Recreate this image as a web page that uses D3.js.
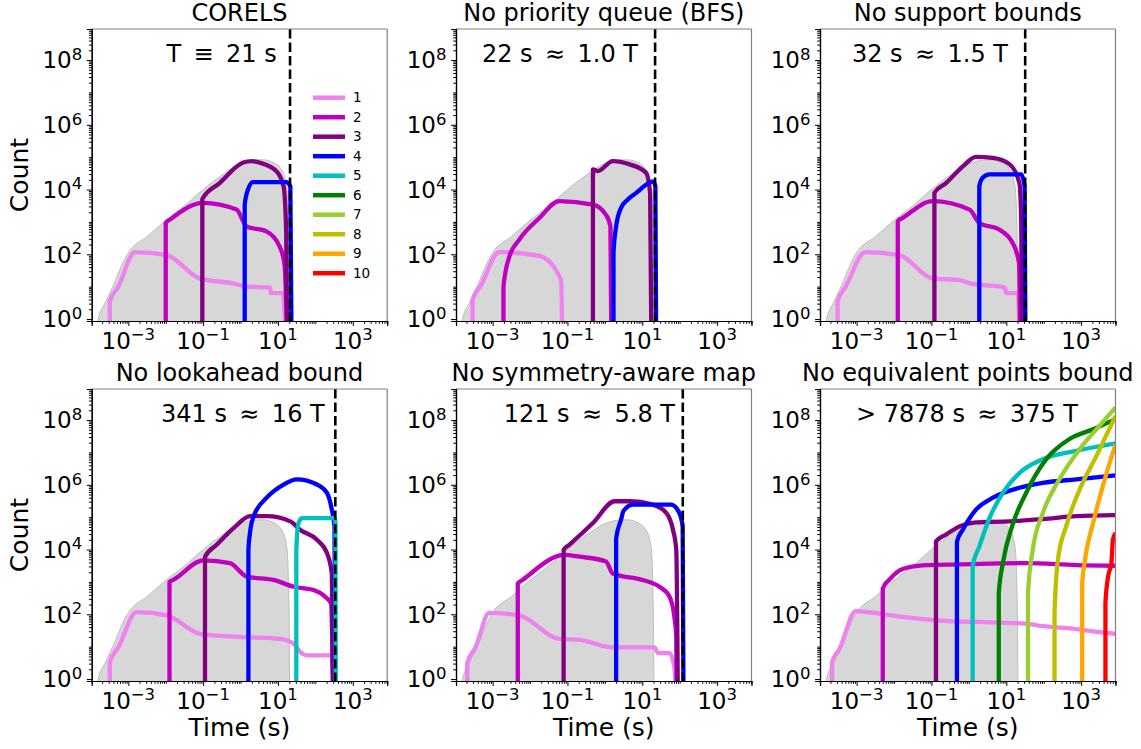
<!DOCTYPE html>
<html><head><meta charset="utf-8">
<script src="https://cdn.jsdelivr.net/npm/d3@7/dist/d3.min.js"></script>
<style>body{margin:0;background:#fff}svg,svg text{font-family:"DejaVu Sans",sans-serif}</style>
</head><body><svg id="chart" width="1141" height="749"></svg>
<script>
// ---------- data (time in s, count) ----------
const seriesNames = ["1","2","3","4","5","6","7","8","9","10"];
const seriesColors = ["#ee82ee","#bf00bf","#800080","#0000ff","#00bfbf","#008000","#9acd32","#bfbf00","#ffa500","#ff0000"];
const panelTitles = ["CORELS","No priority queue (BFS)","No support bounds","No lookahead bound","No symmetry-aware map","No equivalent points bound"];
const panelNotes = ["T \u2009\u2261\u2009 21 s","22 s \u2009\u2248\u2009 1.0 T","32 s \u2009\u2248\u2009 1.5 T","341 s \u2009\u2248\u2009 16 T","121 s \u2009\u2248\u2009 5.8 T","> 7878 s \u2009\u2248\u2009 375 T"];
const panelTimes = [21,22,32,341,121,null];
const xTicks = [1e-3,1e-1,1e1,1e3];
const yTicks = [1,1e2,1e4,1e6,1e8];

// CORELS total count (grey reference)
const reference = [[1.5e-4,0.5],[1.5e-4,0.8],[2.5e-4,3.5],[4e-4,11],[6.3e-4,40],[1e-3,112],[3.2e-3,355],[1e-2,1120],[3.2e-2,3160],[0.1,1e4],[0.32,2.8e4],[1,6.3e4],[2,7.9e4],[4,8.3e4],[7.9,6.6e4],[12.6,4e4],[15.8,2e4],[17.8,7900],[19,1000],[20,31],[20.4,0.5]];

const panelCorels = [
 [[3.2e-4,0.5],[3.2e-4,3.5],[5.4e-4,10],[1.5e-3,117],[1.05e-2,95],[8.1e-2,18],[0.63,12.6],[1.45,10],[6,9.5],[6.6,6.3],[13.5,6.3],[15.8,0.5]],
 [[0.01,0.5],[0.01,930],[0.0129,1175],[0.1,3900],[0.78,2400],[1.45,720],[4.9,510],[11,175],[13.2,100],[15.1,42],[17.4,0.5]],
 [[0.095,0.5],[0.095,5100],[0.275,1.58e4],[1.17,6.8e4],[2,7.6e4],[3.2,6.8e4],[9.1,3.7e4],[14.1,1.26e4],[16.6,460],[17.4,0.5]],
 [[1.29,0.5],[1.29,3400],[1.58,1e4],[2.14,1.7e4],[16.6,1.7e4],[21.4,1.26e4],[22.9,0.5]]
];
const panelBFS = [
 [[2.9e-4,0.5],[2.9e-4,3.9],[4.9e-4,11],[1.5e-3,117],[1.78e-2,89],[6.8e-2,16],[7.2e-2,0.5]],
 [[1.95e-3,0.5],[1.95e-3,10],[2.8e-3,85],[5.1e-3,280],[1.78e-2,1320],[6e-2,4400],[0.48,3400],[1.07,1660],[1.41,720],[1.48,0.5]],
 [[0.48,0.5],[0.48,4.2e4],[0.65,3.7e4],[1.62,7.6e4],[4.6,6e4],[12.6,3.3e4],[16.2,7900],[17.4,0.5]],
 [[1.7,0.5],[1.7,110],[2,720],[2.7,2700],[4.1,4900],[6.9,7900],[12.6,1.4e4],[19,1.8e4],[22.4,1.26e4],[23.4,0.5]]
];
const panelNoSupport = [
 [[3.1e-4,0.5],[3.1e-4,3.5],[5.1e-4,10],[1.7e-3,117],[1.38e-2,95],[0.107,18],[0.56,16],[1.05,12.6],[8.9,9.5],[10,6.3],[20.4,6.3],[22.4,0.5]],
 [[1.26e-2,0.5],[1.26e-2,1050],[1.7e-2,1320],[0.107,4400],[1.05,2400],[1.9,930],[6.6,575],[14.8,224],[21.9,54],[23.4,0.5]],
 [[0.12,0.5],[0.12,7900],[0.245,1.58e4],[0.69,5.2e4],[1.55,1.02e5],[4.4,9.5e4],[12.3,6e4],[22.4,1.58e4],[25.1,1000],[26.3,0.5]],
 [[1.9,0.5],[1.9,1.26e4],[2.34,2.3e4],[3.55,2.95e4],[25.1,2.95e4],[30.9,1.26e4],[32.4,0.5]]
];
const panelNoLookahead = [
 [[3.2e-4,0.5],[3.2e-4,3.3],[5.4e-4,9.5],[1.66e-3,117],[1.07e-2,93],[8.3e-2,25],[0.98,20],[11.5,17.4],[26.3,12.3],[39.8,6.8],[60,5.4],[275,5.4],[309,0.5]],
 [[1.26e-2,0.5],[1.26e-2,1000],[1.58e-2,1150],[0.102,4600],[0.52,3800],[1.48,1450],[7.6,1150],[26.3,710],[89,560],[182,350],[263,214],[295,0.5]],
 [[0.112,0.5],[0.112,6000],[0.23,1.4e4],[0.65,4.6e4],[1.82,1.07e5],[5,1.07e5],[21.4,7.4e4],[38.9,4.1e4],[110,2e4],[204,7800],[275,1820],[295,0.5]],
 [[1.62,0.5],[1.62,9800],[1.78,3.2e4],[2.24,1.07e5],[5,4e5],[14.1,1.02e6],[31.6,1.48e6],[110,1.02e6],[204,5.6e5],[275,1.7e5],[324,5.2e4],[339,0.5]],
 [[30.9,0.5],[30.9,9800],[35.5,6.6e4],[43.7,9.3e4],[330,9.3e4],[345,6.6e4],[350,0.5]]
];
const panelNoSymmetry = [
 [[2.1e-4,0.5],[2.1e-4,3.1],[3.5e-4,9.5],[8.1e-4,110],[5.1e-3,93],[6e-2,17.4],[0.21,16.2],[1.62,9.5],[21.4,9.5],[26.3,6.3],[53.7,6.3],[72,2.3],[78,0.5]],
 [[4.7e-3,0.5],[4.7e-3,890],[6.3e-3,1150],[8.3e-2,6800],[0.21,6000],[1.07,4300],[1.62,1820],[10.2,1150],[28.8,710],[53.7,350],[72,83],[81,20],[83,0.5]],
 [[7.9e-2,0.5],[7.9e-2,9800],[0.112,1.4e4],[0.48,6.6e4],[1.82,3.1e5],[4.6,3.1e5],[19,2.45e5],[43.7,1.35e5],[66,4.1e4],[81,9800],[89,0.5]],
 [[2,0.5],[2,2.2e4],[2.7,8.3e4],[3.16,1.58e5],[5.6,2.45e5],[59,2.45e5],[98,1.35e5],[120,5.2e4],[126,0.5]]
];
const panelNoEquivalent = [
 [[2.2e-4,0.5],[2.2e-4,3.3],[3.5e-4,8.5],[9.5e-4,126],[4.1e-3,105],[1.7e-2,83],[0.132,65],[1.55,58],[33.9,51],[95,43],[741,35],[3090,28],[8300,25]],
 [[5e-3,0.5],[5e-3,630],[7.4e-3,1150],[1.7e-2,2500],[7.2e-2,3300],[0.56,3470],[33.9,3800],[741,3300],[8300,3160]],
 [[0.132,0.5],[0.132,1.78e4],[0.245,2.9e4],[0.56,5.2e4],[1.55,6.9e4],[12.3,7.4e4],[95,8.7e4],[741,1.07e5],[8300,1.15e5]],
 [[0.48,0.5],[0.48,1.78e4],[0.69,4.1e4],[1.55,1.7e5],[4.4,4e5],[22.4,8.1e5],[95,1.15e6],[741,1.48e6],[8300,1.95e6]],
 [[1.26,0.5],[1.26,2950],[1.9,1.23e4],[3.55,9.3e4],[8.1,5.6e5],[22.4,2.3e6],[95,6.2e6],[741,1.12e7],[8300,1.9e7]],
 [[6.3,0.5],[6.3,440],[8.1,3800],[14.8,5.9e4],[33.9,5.6e5],[117,6.2e6],[490,2.6e7],[2090,5.2e7],[8300,1.07e8]],
 [[38,0.5],[38,440],[51,9800],[95,1.35e5],[263,1.48e6],[912,1.26e7],[3090,6.6e7],[8300,2.45e8]],
 [[195,0.5],[195,105],[240,4800],[398,5.2e4],[912,7.1e5],[2570,7.8e6],[8300,1.35e8]],
 [[1070,0.5],[1070,890],[1230,3800],[2090,6.6e4],[3800,9.1e5],[8300,1.78e7]],
 [[4470,0.5],[4470,214],[5250,1450],[6460,3800],[7080,2e4],[8300,3.2e4]]
];
const panelSeries = [panelCorels,panelBFS,panelNoSupport,panelNoLookahead,panelNoSymmetry,panelNoEquivalent];

// ---------- layout ----------
const colLeft=[91.7,456,820], rowTop=[29,389], pw=295.5, ph=292;
const xDomain=[1.05e-4,8300], yDomain=[0.87,9.1e8];
const notePos=[185,182,188,233,219,258];
const FONT='"DejaVu Sans", sans-serif';
const TICK_FS=23, SUP_FS=16.5;
const svg=d3.select("#chart");

function sci(v){const e=Math.round(Math.log10(v));return String(e).replace("-","\u2212");}

panelTitles.forEach((title,i)=>{
  const col=i%3,row=Math.floor(i/3);
  const g=svg.append("g").attr("transform",`translate(${colLeft[col]},${rowTop[row]})`);
  const x=d3.scaleLog().domain(xDomain).range([0,pw]);
  const y=d3.scaleLog().domain(yDomain).range([ph,0]);
  const cid="clip"+i;
  g.append("clipPath").attr("id",cid).append("rect").attr("width",pw).attr("height",ph);
  const plot=g.append("g").attr("clip-path",`url(#${cid})`);
  // reference area
  plot.append("path").datum(reference)
    .attr("d",d3.area().curve(d3.curveMonotoneX).x(d=>x(d[0])).y0(ph+10).y1(d=>y(d[1])))
    .attr("fill","#d7d7d7");
  plot.append("path").datum(reference)
    .attr("d",d3.line().curve(d3.curveMonotoneX).x(d=>x(d[0])).y(d=>y(d[1])))
    .attr("fill","none").attr("stroke","#bdbdbd").attr("stroke-width",1);
  // series
  const line=d3.line().curve(d3.curveMonotoneX).x(d=>x(d[0])).y(d=>y(d[1]));
  panelSeries[i].forEach((s,k)=>{
    plot.append("path").datum(s).attr("d",line)
      .attr("fill","none").attr("stroke",seriesColors[k])
      .attr("stroke-width",4.3).attr("stroke-linejoin","round");
  });
  // dashed time line
  if(panelTimes[i]!==null){
    plot.append("line").attr("x1",x(panelTimes[i])).attr("x2",x(panelTimes[i]))
      .attr("y1",0).attr("y2",ph).attr("stroke","#000").attr("stroke-width",2.6)
      .attr("stroke-dasharray","9.5,4");
  }
  // spines
  g.append("line").attr("x1",0).attr("x2",pw).attr("y1",0).attr("y2",0).attr("stroke","#808080").attr("stroke-width",1.2);
  g.append("line").attr("x1",pw).attr("x2",pw).attr("y1",0).attr("y2",ph).attr("stroke","#808080").attr("stroke-width",1.2);
  // x axis
  const xMinor=[];
  for(let d=-4;d<=3;d++)for(let m=1;m<=9;m++){const v=m*Math.pow(10,d);if(v>=xDomain[0]&&v<=xDomain[1]&&!xTicks.some(t=>Math.abs(t-v)/v<1e-6))xMinor.push(v);}
  const xa=g.append("g").attr("transform",`translate(0,${ph})`);
  xa.call(d3.axisBottom(x).tickValues(xMinor).tickSize(2.8).tickFormat(""));
  xa.call(g2=>g2.append("g").call(d3.axisBottom(x).tickValues(xTicks).tickSize(4.9).tickFormat("")));
  xa.selectAll(".domain").attr("stroke","#000").attr("stroke-width",1.2);
  xa.selectAll("line").attr("stroke","#000").attr("stroke-width",1);
  xTicks.forEach(t=>{
    const tx=xa.append("text").attr("x",x(t)).attr("y",27.5).attr("text-anchor","middle")
      .attr("font-family",FONT).attr("font-size",TICK_FS).attr("fill","#000");
    tx.append("tspan").text("10");
    tx.append("tspan").attr("dy",-8.5).attr("font-size",SUP_FS).text(sci(t));
  });
  // y axis
  const yMinor=[];
  for(let d=0;d<=8;d++)for(let m=1;m<=9;m++){const v=m*Math.pow(10,d);if(v>=yDomain[0]&&v<=yDomain[1]&&!yTicks.some(t=>Math.abs(t-v)/v<1e-6))yMinor.push(v);}
  const ya=g.append("g");
  ya.call(d3.axisLeft(y).tickValues(yMinor).tickSize(2.8).tickFormat(""));
  ya.call(g2=>g2.append("g").call(d3.axisLeft(y).tickValues(yTicks).tickSize(4.9).tickFormat("")));
  ya.selectAll(".domain").attr("stroke","#000").attr("stroke-width",1.2);
  ya.selectAll("line").attr("stroke","#000").attr("stroke-width",1);
  yTicks.forEach(t=>{
    const tx=ya.append("text").attr("x",-9.5).attr("y",y(t)+8.4).attr("text-anchor","end")
      .attr("font-family",FONT).attr("font-size",TICK_FS).attr("fill","#000");
    tx.append("tspan").text("10");
    tx.append("tspan").attr("dy",-8.5).attr("font-size",SUP_FS).text(sci(t));
  });
  // title
  g.append("text").attr("x",pw/2).attr("y",-8.3).attr("text-anchor","middle")
    .attr("font-size",24).attr("fill","#000").text(title);
  // note
  g.append("text").attr("x",notePos[i]).attr("y",32.5).attr("text-anchor","end")
    .attr("font-size",24).attr("fill","#000").text(panelNotes[i]);
  // axis labels
  if(row===1) g.append("text").attr("x",pw/2).attr("y",ph+55).attr("text-anchor","middle")
    .attr("font-size",25).attr("fill","#000").text("Time (s)");
  if(col===0) g.append("text").attr("transform",`translate(${28-colLeft[0]},${ph/2}) rotate(-90)`)
    .attr("text-anchor","middle").attr("font-size",25).attr("fill","#000").text("Count");
  // legend
  if(i===0){
    const lg=g.append("g").attr("transform","translate(221.3,68.7)");
    seriesNames.forEach((n,k)=>{
      lg.append("line").attr("x1",0).attr("x2",32).attr("y1",k*19.5).attr("y2",k*19.5)
        .attr("stroke",seriesColors[k]).attr("stroke-width",4.5);
      lg.append("text").attr("x",40).attr("y",k*19.5+4.7).attr("font-size",13.5).attr("fill","#000").text(n);
    });
  }
});
</script></body></html>
